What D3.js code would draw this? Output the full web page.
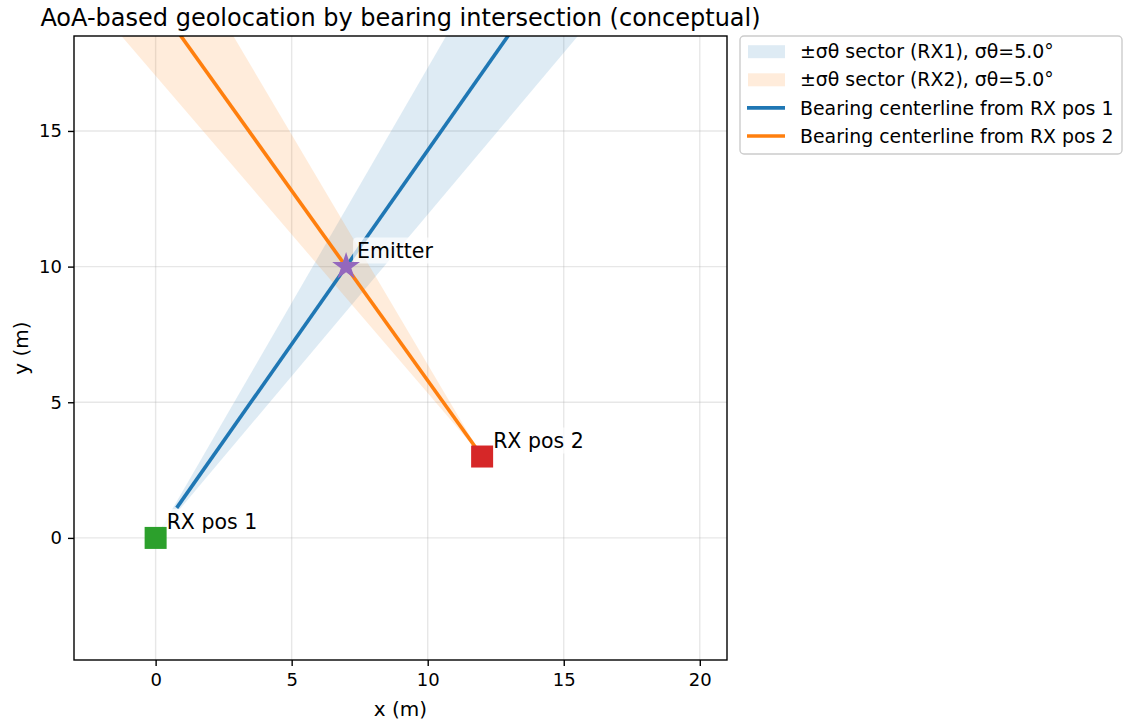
<!DOCTYPE html>
<html>
<head>
<meta charset="utf-8">
<script src="https://cdn.jsdelivr.net/npm/d3@7"></script>
<style>
  body { margin: 0; background: #fff; }
  text { font-family: "DejaVu Sans", sans-serif; fill: #000; }
</style>
</head>
<body>
<div id="chart"></div>
<script>
// receivers and emitter (metres)
const rxNames = ["RX pos 1", "RX pos 2"];
const rxX = [0, 12];
const rxY = [0, 3];
const rxColors = ["#2ca02c", "#d62728"];
const emitterXY = [7, 10];
const sigmaDeg = 5.0;
const lineStart = [1.35, 0];   // where each drawn centerline begins (distance from RX)
const rayLength = 30;

const xTicks = [0, 5, 10, 15, 20];
const yTicks = [0, 5, 10, 15];
const legendLabels = [
  "±σθ sector (RX1), σθ=5.0°",
  "±σθ sector (RX2), σθ=5.0°",
  "Bearing centerline from RX pos 1",
  "Bearing centerline from RX pos 2"
];
const seriesColors = ["#1f77b4", "#ff7f0e"];

const W = 1123, H = 722;
const margin = {top: 36, left: 74, right: 396, bottom: 62};
const width = W - margin.left - margin.right,
    height = H - margin.top - margin.bottom;

const svg = d3.select("#chart").append("svg")
    .attr("width", W)
    .attr("height", H);

const g = svg.append("g")
    .attr("transform", `translate(${margin.left},${margin.top})`);

const x = d3.scaleLinear().domain([-3, 21]).range([0, width]);
const y = d3.scaleLinear().domain([-4.5, 18.5]).range([height, 0]);

g.append("clipPath").attr("id", "plotclip")
  .append("rect").attr("width", width).attr("height", height);

// grid
g.selectAll(".gx").data(xTicks).enter().append("line")
    .attr("x1", d => x(d)).attr("x2", d => x(d))
    .attr("y1", 0).attr("y2", height)
    .attr("stroke", "#b0b0b0").attr("stroke-opacity", 0.3).attr("stroke-width", 1.4);
g.selectAll(".gy").data(yTicks).enter().append("line")
    .attr("x1", 0).attr("x2", width)
    .attr("y1", d => y(d)).attr("y2", d => y(d))
    .attr("stroke", "#b0b0b0").attr("stroke-opacity", 0.3).attr("stroke-width", 1.4);

const plot = g.append("g").attr("clip-path", "url(#plotclip)");

const bearing = i => Math.atan2(emitterXY[1] - rxY[i], emitterXY[0] - rxX[i]);
const sig = sigmaDeg * Math.PI / 180;

// sectors
rxNames.forEach((name, i) => {
  const th = bearing(i);
  const pts = [[rxX[i], rxY[i]]];
  d3.range(0, 41).forEach(k => {
    const a = th - sig + 2 * sig * k / 40;
    pts.push([rxX[i] + rayLength * Math.cos(a), rxY[i] + rayLength * Math.sin(a)]);
  });
  plot.append("path")
      .attr("d", d3.line().x(d => x(d[0])).y(d => y(d[1]))(pts) + "Z")
      .attr("fill", seriesColors[i])
      .attr("fill-opacity", 0.15);
});

// centerlines
rxNames.forEach((name, i) => {
  const th = bearing(i);
  plot.append("line")
      .attr("x1", x(rxX[i] + lineStart[i] * Math.cos(th)))
      .attr("y1", y(rxY[i] + lineStart[i] * Math.sin(th)))
      .attr("x2", x(rxX[i] + rayLength * Math.cos(th)))
      .attr("y2", y(rxY[i] + rayLength * Math.sin(th)))
      .attr("stroke", seriesColors[i])
      .attr("stroke-width", 3.6);
});

// annotations with translucent white boxes
const labels = rxNames.map((n, i) => ({text: n, px: rxX[i], py: rxY[i]}))
  .concat([{text: "Emitter", px: emitterXY[0], py: emitterXY[1]}]);
labels.forEach(l => {
  const bg = plot.append("rect");
  const t = plot.append("text")
      .attr("x", x(l.px) + 11)
      .attr("y", y(l.py) - 9)
      .style("font-size", "20.5px")
      .text(l.text);
  const b = t.node().getBBox();
  bg.attr("x", b.x - 4).attr("y", b.y - 1)
    .attr("width", b.width + 8).attr("height", b.height + 2)
    .attr("rx", 4)
    .attr("fill", "#fff").attr("fill-opacity", 0.7);
});

// receiver markers
plot.selectAll(".rx").data(rxNames).enter().append("rect")
    .attr("x", (d, i) => x(rxX[i]) - 11)
    .attr("y", (d, i) => y(rxY[i]) - 11)
    .attr("width", 22).attr("height", 22)
    .attr("fill", (d, i) => rxColors[i]);

// emitter star
plot.append("path")
    .attr("d", d3.symbol().type(d3.symbolStar).size(240)())
    .attr("transform", `translate(${x(emitterXY[0])},${y(emitterXY[1])})`)
    .attr("fill", "#9467bd");

// axes
const xAxis = g.append("g")
    .attr("transform", `translate(0,${height})`)
    .call(d3.axisBottom(x).tickValues(xTicks).tickSize(6).tickPadding(7));
const yAxis = g.append("g")
    .call(d3.axisLeft(y).tickValues(yTicks).tickSize(6).tickPadding(6));
[xAxis, yAxis].forEach(a => {
  a.selectAll("text").style("font-size", "18px").style("font-family", "DejaVu Sans");
  a.selectAll("line").attr("stroke-width", 1.4);
  a.select(".domain").remove();
});

g.append("rect")
    .attr("width", width).attr("height", height)
    .attr("fill", "none").attr("stroke", "#000").attr("stroke-width", 1.4);

// titles
svg.append("text")
    .attr("x", margin.left + width / 2).attr("y", 26)
    .attr("text-anchor", "middle")
    .style("font-size", "24px")
    .text("AoA-based geolocation by bearing intersection (conceptual)");
svg.append("text")
    .attr("x", margin.left + width / 2).attr("y", 716)
    .attr("text-anchor", "middle")
    .style("font-size", "20px")
    .text("x (m)");
svg.append("text")
    .attr("transform", `translate(28,${margin.top + height / 2}) rotate(-90)`)
    .attr("text-anchor", "middle")
    .style("font-size", "20px")
    .text("y (m)");

// legend
const leg = svg.append("g").attr("transform", "translate(740,36)");
leg.append("rect")
    .attr("width", 382).attr("height", 118).attr("rx", 4)
    .attr("fill", "#fff").attr("fill-opacity", 0.8)
    .attr("stroke", "#cccccc").attr("stroke-width", 1.4);
legendLabels.forEach((lab, i) => {
  const cy = 15.7 + i * 28.1;
  if (i < 2) {
    leg.append("rect")
        .attr("x", 8).attr("y", cy - 6.5).attr("width", 37).attr("height", 13)
        .attr("fill", seriesColors[i]).attr("fill-opacity", 0.15);
  } else {
    leg.append("line")
        .attr("x1", 7).attr("x2", 45).attr("y1", cy).attr("y2", cy)
        .attr("stroke", seriesColors[i - 2]).attr("stroke-width", 3.6);
  }
  leg.append("text")
      .attr("x", 60).attr("y", cy).attr("dy", "0.35em")
      .style("font-size", "18.9px")
      .text(lab);
});
</script>
</body>
</html>
